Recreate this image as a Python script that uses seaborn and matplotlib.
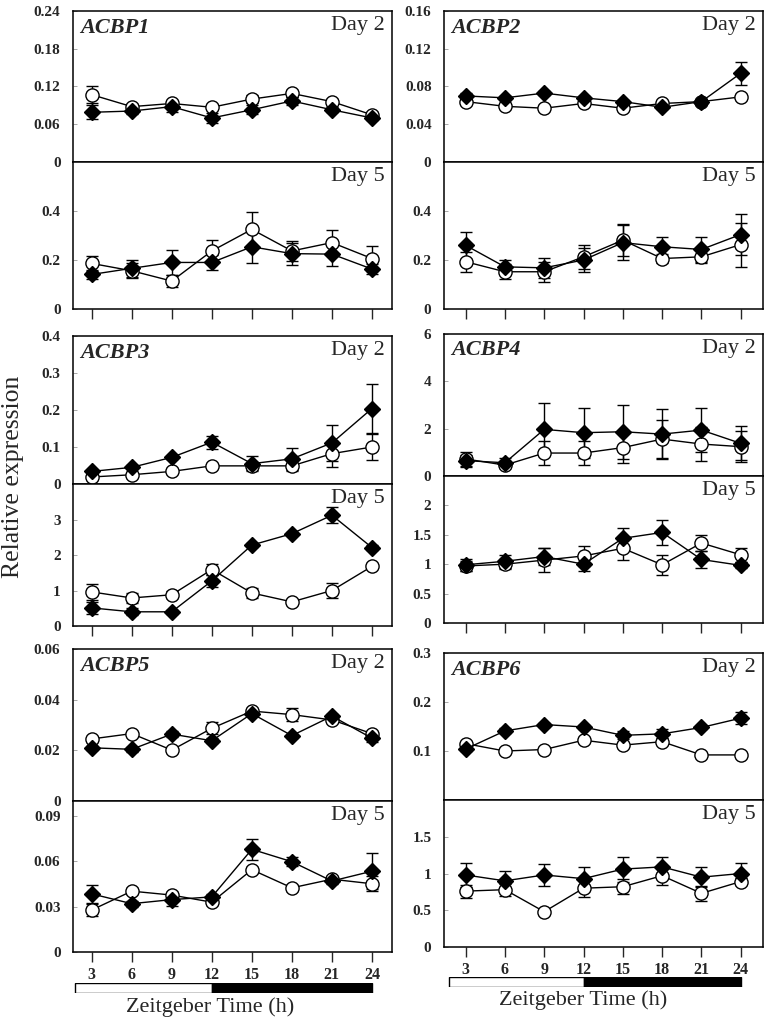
import matplotlib
matplotlib.use("Agg")
import matplotlib.pyplot as plt
import seaborn as sns

sns.set_style("ticks")
plt.rcParams["font.family"] = ["Liberation Serif", "DejaVu Serif"]

# Zeitgeber time points
hours = [3, 6, 9, 12, 15, 18, 21, 24]

# open circles / filled diamonds, mean and error for each gene and day
acbp1_d2_open = [0.107, 0.088, 0.093, 0.087, 0.100, 0.109, 0.096, 0.075]
acbp1_d2_open_err = [0.014, 0.004, 0.004, 0.003, 0.006, 0.005, 0.004, 0.005]
acbp1_d2_fill = [0.079, 0.081, 0.088, 0.070, 0.083, 0.097, 0.083, 0.070]
acbp1_d2_fill_err = [0.011, 0.004, 0.008, 0.008, 0.007, 0.007, 0.004, 0.004]

acbp1_d5_open = [0.186, 0.156, 0.114, 0.237, 0.325, 0.237, 0.271, 0.206]
acbp1_d5_open_err = [0.03, 0.03, 0.025, 0.045, 0.07, 0.04, 0.05, 0.05]
acbp1_d5_fill = [0.141, 0.166, 0.19, 0.19, 0.254, 0.226, 0.224, 0.163]
acbp1_d5_fill_err = [0.02, 0.035, 0.05, 0.03, 0.065, 0.045, 0.05, 0.02]

acbp2_d2_open = [0.064, 0.059, 0.057, 0.062, 0.057, 0.062, 0.064, 0.069]
acbp2_d2_open_err = [0.002, 0.002, 0.002, 0.002, 0.002, 0.002, 0.002, 0.002]
acbp2_d2_fill = [0.070, 0.068, 0.073, 0.068, 0.064, 0.058, 0.064, 0.094]
acbp2_d2_fill_err = [0.003, 0.002, 0.002, 0.002, 0.002, 0.002, 0.002, 0.012]

acbp2_d5_open = [0.193, 0.152, 0.152, 0.213, 0.281, 0.206, 0.213, 0.263]
acbp2_d5_open_err = [0.04, 0.03, 0.04, 0.05, 0.065, 0.02, 0.025, 0.09]
acbp2_d5_fill = [0.26, 0.172, 0.168, 0.2, 0.271, 0.254, 0.243, 0.304]
acbp2_d5_fill_err = [0.055, 0.03, 0.04, 0.05, 0.07, 0.04, 0.05, 0.085]

acbp3_d2_open = [0.019, 0.025, 0.034, 0.049, 0.049, 0.049, 0.082, 0.100]
acbp3_d2_open_err = [0.004, 0.004, 0.004, 0.004, 0.01, 0.015, 0.035, 0.035]
acbp3_d2_fill = [0.034, 0.045, 0.072, 0.113, 0.055, 0.068, 0.111, 0.204]
acbp3_d2_fill_err = [0.004, 0.005, 0.005, 0.018, 0.02, 0.03, 0.048, 0.067]

acbp3_d5_open = [0.96, 0.79, 0.88, 1.59, 0.93, 0.68, 1.0, 1.68]
acbp3_d5_open_err = [0.22, 0.15, 0.1, 0.16, 0.13, 0.05, 0.2, 0.05]
acbp3_d5_fill = [0.51, 0.40, 0.40, 1.27, 2.28, 2.60, 3.12, 2.21]
acbp3_d5_fill_err = [0.18, 0.1, 0.05, 0.18, 0.05, 0.05, 0.22, 0.07]

acbp4_d2_open = [0.72, 0.46, 0.97, 0.97, 1.2, 1.56, 1.35, 1.24]
acbp4_d2_open_err = [0.3, 0.12, 0.5, 0.5, 0.65, 0.8, 0.72, 0.65]
acbp4_d2_fill = [0.65, 0.56, 1.97, 1.83, 1.87, 1.77, 1.94, 1.38]
acbp4_d2_fill_err = [0.25, 0.2, 1.1, 1.06, 1.15, 1.05, 0.93, 0.72]

acbp4_d5_open = [0.97, 1.0, 1.07, 1.14, 1.27, 0.99, 1.36, 1.16]
acbp4_d5_open_err = [0.08, 0.08, 0.2, 0.17, 0.2, 0.17, 0.13, 0.12]
acbp4_d5_fill = [0.99, 1.05, 1.13, 1.0, 1.44, 1.54, 1.08, 0.98]
acbp4_d5_fill_err = [0.1, 0.11, 0.15, 0.12, 0.17, 0.21, 0.14, 0.05]

acbp5_d2_open = [0.0245, 0.0266, 0.0201, 0.0287, 0.0355, 0.0341, 0.0320, 0.0266]
acbp5_d2_open_err = [0.0008, 0.0008, 0.0008, 0.0023, 0.0008, 0.0025, 0.0008, 0.0008]
acbp5_d2_fill = [0.0210, 0.0204, 0.0264, 0.0238, 0.0345, 0.0258, 0.0335, 0.0248]
acbp5_d2_fill_err = [0.0008, 0.001, 0.0012, 0.001, 0.0008, 0.0008, 0.0008, 0.0017]

acbp5_d5_open = [0.0278, 0.0403, 0.0377, 0.0330, 0.0545, 0.0425, 0.0482, 0.0452]
acbp5_d5_open_err = [0.004, 0.002, 0.002, 0.002, 0.002, 0.002, 0.002, 0.005]
acbp5_d5_fill = [0.0385, 0.0320, 0.0347, 0.0365, 0.0680, 0.0598, 0.0470, 0.0535]
acbp5_d5_fill_err = [0.006, 0.002, 0.004, 0.002, 0.007, 0.003, 0.002, 0.012]

acbp6_d2_open = [0.115, 0.100, 0.103, 0.122, 0.112, 0.119, 0.092, 0.092]
acbp6_d2_open_err = [0.004, 0.003, 0.004, 0.004, 0.003, 0.004, 0.003, 0.003]
acbp6_d2_fill = [0.104, 0.141, 0.154, 0.149, 0.132, 0.135, 0.148, 0.167]
acbp6_d2_fill_err = [0.004, 0.005, 0.004, 0.005, 0.008, 0.009, 0.004, 0.012]

acbp6_d5_open = [0.76, 0.78, 0.48, 0.80, 0.82, 0.97, 0.73, 0.89]
acbp6_d5_open_err = [0.09, 0.08, 0.03, 0.12, 0.1, 0.13, 0.1, 0.05]
acbp6_d5_fill = [0.98, 0.90, 0.98, 0.93, 1.06, 1.09, 0.95, 1.00]
acbp6_d5_fill_err = [0.16, 0.14, 0.15, 0.16, 0.17, 0.14, 0.14, 0.14]

# y ranges and ticks
acbp1_ylim = [(0, 0.24), (0, 0.6)]
acbp1_ticks = [[0, 0.06, 0.12, 0.18, 0.24], [0, 0.2, 0.4]]
acbp2_ylim = [(0, 0.16), (0, 0.6)]
acbp2_ticks = [[0, 0.04, 0.08, 0.12, 0.16], [0, 0.2, 0.4]]
acbp3_ylim = [(0, 0.4), (0, 4)]
acbp3_ticks = [[0, 0.1, 0.2, 0.3, 0.4], [0, 1, 2, 3]]
acbp4_ylim = [(0, 6), (0, 2.5)]
acbp4_ticks = [[0, 2, 4, 6], [0, 0.5, 1, 1.5, 2]]
acbp5_ylim = [(0, 0.06), (0, 0.1)]
acbp5_ticks = [[0, 0.02, 0.04, 0.06], [0, 0.03, 0.06, 0.09]]
acbp6_ylim = [(0, 0.3), (0, 2)]
acbp6_ticks = [[0.1, 0.2, 0.3], [0, 0.5, 1, 1.5]]

# light / dark bar (start, end, colour)
light_dark = [(1.75, 12, "white"), (12, 24, "black")]

W, H = 770, 1022
fig = plt.figure(figsize=(W / 100, H / 100), dpi=100)


def add_ax(x0, x1, top, bottom):
    return fig.add_axes([x0 / W, 1 - bottom / H, (x1 - x0) / W, (bottom - top) / H])


def draw_series(ax, means, errs, marker, face, size):
    ax.errorbar(hours, means, yerr=errs, fmt="none", ecolor="black",
                elinewidth=1, capsize=4, capthick=1, zorder=2)
    sns.lineplot(x=hours, y=means, ax=ax, color="black", lw=1, marker=marker,
                 markersize=size, markerfacecolor=face, markeredgecolor="black",
                 markeredgewidth=1, zorder=3)


def style_ax(ax, ylim, ticks, xlim, bottom_panel, labels):
    ax.set_xlim(*xlim)
    ax.set_ylim(*ylim)
    ax.set_yticks(ticks)
    ax.set_yticklabels([f"{t:g}" for t in ticks], fontweight="bold", fontsize=11)
    ax.set_xticks(hours)
    if bottom_panel:
        ax.tick_params(axis="x", direction="out", length=7, width=1, pad=4)
        if labels:
            ax.set_xticklabels([str(h) for h in hours], fontweight="bold", fontsize=11.5)
        else:
            ax.set_xticklabels([])
    else:
        ax.tick_params(axis="x", length=0, labelbottom=False)
    ax.tick_params(axis="y", direction="in", length=3, width=0.6, color="#999999", pad=9)
    for s in ax.spines.values():
        s.set_visible(True)
        s.set_linewidth(1.1)
        s.set_color("black")
    ax.set_xlabel("")
    ax.set_ylabel("")


panels = [
    ("ACBP1", 0, [acbp1_d2_open, acbp1_d2_open_err, acbp1_d2_fill, acbp1_d2_fill_err],
     [acbp1_d5_open, acbp1_d5_open_err, acbp1_d5_fill, acbp1_d5_fill_err], acbp1_ylim, acbp1_ticks),
    ("ACBP2", 1, [acbp2_d2_open, acbp2_d2_open_err, acbp2_d2_fill, acbp2_d2_fill_err],
     [acbp2_d5_open, acbp2_d5_open_err, acbp2_d5_fill, acbp2_d5_fill_err], acbp2_ylim, acbp2_ticks),
    ("ACBP3", 0, [acbp3_d2_open, acbp3_d2_open_err, acbp3_d2_fill, acbp3_d2_fill_err],
     [acbp3_d5_open, acbp3_d5_open_err, acbp3_d5_fill, acbp3_d5_fill_err], acbp3_ylim, acbp3_ticks),
    ("ACBP4", 1, [acbp4_d2_open, acbp4_d2_open_err, acbp4_d2_fill, acbp4_d2_fill_err],
     [acbp4_d5_open, acbp4_d5_open_err, acbp4_d5_fill, acbp4_d5_fill_err], acbp4_ylim, acbp4_ticks),
    ("ACBP5", 0, [acbp5_d2_open, acbp5_d2_open_err, acbp5_d2_fill, acbp5_d2_fill_err],
     [acbp5_d5_open, acbp5_d5_open_err, acbp5_d5_fill, acbp5_d5_fill_err], acbp5_ylim, acbp5_ticks),
    ("ACBP6", 1, [acbp6_d2_open, acbp6_d2_open_err, acbp6_d2_fill, acbp6_d2_fill_err],
     [acbp6_d5_open, acbp6_d5_open_err, acbp6_d5_fill, acbp6_d5_fill_err], acbp6_ylim, acbp6_ticks),
]

# pixel layout: columns (x0, x1, xlim) and rows (top, divider, bottom)
cols = [(73, 392, (1.6, 25.5)), (444, 763, (1.35, 25.7))]
rows = {
    0: [(11, 162, 309), (336, 484, 626), (649, 801, 952)],
    1: [(11, 162, 309), (334, 476, 623), (653, 800, 947)],
}

for i, (gene, col, d2, d5, ylims, ticks) in enumerate(panels):
    row = i // 2
    x0, x1, xlim = cols[col]
    top, mid, bot = rows[col][row]
    last = row == 2
    ax2 = add_ax(x0, x1, top, mid)
    ax5 = add_ax(x0, x1, mid, bot)
    for ax, data, yl, tk, day, is_bottom in [(ax2, d2, ylims[0], ticks[0], "Day 2", False),
                                             (ax5, d5, ylims[1], ticks[1], "Day 5", True)]:
        draw_series(ax, data[0], data[1], "o", "white", 9.5)
        draw_series(ax, data[2], data[3], "D", "black", 8.5)
        style_ax(ax, yl, tk, xlim, is_bottom, last)
        ax.text(0.978, 0.965, day, transform=ax.transAxes, ha="right", va="top", fontsize=16)
    ax2.text(0.022, 0.955, gene, transform=ax2.transAxes, ha="left", va="top",
             fontsize=16, fontweight="bold", fontstyle="italic")

    if last:
        bar_top = 983 if col == 0 else 977
        bax = add_ax(x0, x1, bar_top, bar_top + 10)
        bax.set_xlim(*xlim)
        bax.set_ylim(0, 1)
        for start, end, colour in light_dark:
            bax.barh(0.5, end - start, left=start, height=1, color=colour,
                     edgecolor="black", linewidth=1)
        bax.axis("off")
        cx = 210 if col == 0 else 583
        cy = 1007 if col == 0 else 1000
        fig.text(cx / W, 1 - cy / H, "Zeitgeber Time (h)", ha="center", va="center", fontsize=16)

fig.text(13 / W, 1 - 477 / H, "Relative expression", rotation=90, ha="center",
         va="center", fontsize=18.5)

fig.savefig("out.png", dpi=100)
